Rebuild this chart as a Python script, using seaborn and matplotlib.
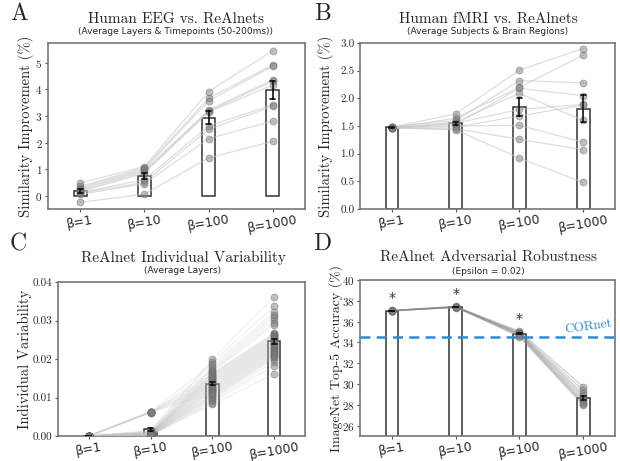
import numpy as np
import pandas as pd
import matplotlib
matplotlib.use("Agg")
import matplotlib.pyplot as plt
import seaborn as sns

# ---------------- data ----------------
conds = ["β=1", "β=10", "β=100", "β=1000"]

# Panel A: Human EEG vs. ReAlnets (10 subjects)
eeg_b1 = [0.48, 0.35, 0.30, 0.25, 0.20, 0.15, 0.12, 0.10, 0.05, -0.25]
eeg_b10 = [1.10, 1.05, 1.00, 0.95, 0.90, 0.85, 0.60, 0.50, 0.45, 0.06]
eeg_b100 = [3.92, 3.67, 3.57, 3.22, 3.18, 3.15, 2.62, 2.50, 2.15, 1.42]
eeg_b1000 = [5.46, 4.93, 4.88, 4.37, 4.31, 4.17, 3.43, 3.37, 2.81, 2.05]

# Panel B: Human fMRI vs. ReAlnets
fmri_b1 = [1.48, 1.47, 1.49, 1.47, 1.46, 1.48, 1.47, 1.48, 1.46, 1.47]
fmri_b10 = [1.72, 1.64, 1.60, 1.57, 1.55, 1.53, 1.50, 1.48, 1.45, 1.43]
fmri_b100 = [2.51, 2.20, 2.32, 2.09, 1.80, 2.18, 1.51, 1.68, 1.26, 0.92]
fmri_b1000 = [2.90, 2.78, 2.28, 1.60, 1.89, 2.05, 1.21, 1.88, 1.07, 0.48]

# Panel C: individual variability (45 model pairs)
var_b1 = [0.0] * 45
var_b10 = [0.0014, 0.0013, 0.0063, 0.0012, 0.0011, 0.0010, 0.0062, 0.0009, 0.0009,
           0.0008, 0.0062, 0.0008, 0.0007, 0.0007, 0.0062, 0.0007, 0.0006, 0.0006,
           0.0061, 0.0006, 0.0006, 0.0005, 0.0062, 0.0005, 0.0005, 0.0005, 0.0063,
           0.0005, 0.0004, 0.0004, 0.0061, 0.0004, 0.0004, 0.0004, 0.0062, 0.0003,
           0.0003, 0.0003, 0.0003, 0.0003, 0.0002, 0.0002, 0.0002, 0.0002, 0.0002]
var_b100 = [0.0200, 0.0193, 0.0187, 0.0181, 0.0176, 0.0172, 0.0169, 0.0166, 0.0163,
            0.0161, 0.0159, 0.0157, 0.0156, 0.0153, 0.0151, 0.0149, 0.0148, 0.0145,
            0.0143, 0.0141, 0.0140, 0.0137, 0.0135, 0.0134, 0.0131, 0.0129, 0.0128,
            0.0125, 0.0123, 0.0121, 0.0120, 0.0117, 0.0115, 0.0114, 0.0111, 0.0109,
            0.0107, 0.0104, 0.0103, 0.0100, 0.0097, 0.0094, 0.0090, 0.0086, 0.0082]
var_b1000 = [0.0362, 0.0337, 0.0321, 0.0314, 0.0308, 0.0301, 0.0294, 0.0288, 0.0268,
             0.0266, 0.0264, 0.0262, 0.0260, 0.0258, 0.0256, 0.0254, 0.0252, 0.0250,
             0.0248, 0.0246, 0.0244, 0.0242, 0.0240, 0.0238, 0.0236, 0.0234, 0.0232,
             0.0230, 0.0228, 0.0226, 0.0224, 0.0222, 0.0220, 0.0218, 0.0216, 0.0214,
             0.0212, 0.0210, 0.0208, 0.0206, 0.0204, 0.0200, 0.0193, 0.0183, 0.0161]

# Panel D: adversarial robustness (10 models)
adv_b1 = [37.05, 37.02, 37.08, 37.04, 37.06, 37.03, 37.07, 37.05, 37.04, 37.06]
adv_b10 = [37.45, 37.38, 37.42, 37.35, 37.48, 37.40, 37.36, 37.44, 37.39, 37.41]
adv_b100 = [35.10, 35.00, 34.95, 34.90, 34.85, 34.80, 34.75, 34.70, 34.60, 34.55]
adv_b1000 = [29.75, 29.40, 29.10, 28.90, 28.70, 28.50, 28.35, 28.20, 28.10, 27.95]
cornet_acc = 34.55
adv_sig = ["*", "*", "*", ""]

# ---------------- style ----------------
sns.set_style("white")
plt.rcParams["font.family"] = ["cmr10", "DejaVu Serif"]
plt.rcParams["axes.formatter.use_mathtext"] = True
plt.rcParams["mathtext.fontset"] = "cm"

W, H = 620, 461
fig = plt.figure(figsize=(W / 100, H / 100), dpi=100)


def ax_px(l, t, r, b):
    return fig.add_axes([l / W, 1 - b / H, (r - l) / W, (b - t) / H])


def make_df(arrs):
    n = len(arrs[0])
    return pd.DataFrame({
        "cond": np.repeat(conds, n),
        "val": np.concatenate(arrs),
        "subj": np.tile(np.arange(n), len(arrs)),
    })


def panel(ax, arrs, line_color="#c8c8c8", line_alpha=0.6, pt_size=5):
    df = make_df(arrs)
    sns.barplot(data=df, x="cond", y="val", order=conds, width=0.2,
                color="white", edgecolor="#333333", linewidth=1.1,
                errorbar="se", capsize=0.08,
                err_kws=dict(color="#111111", linewidth=1.2), ax=ax)
    for ln in ax.lines:
        ln.set_zorder(6)
    sns.lineplot(data=df, x="cond", y="val", units="subj", estimator=None,
                 color=line_color, alpha=line_alpha, linewidth=0.9,
                 legend=False, ax=ax, zorder=3)
    sns.stripplot(data=df, x="cond", y="val", order=conds, jitter=False,
                  color="gray", alpha=0.5, edgecolor="dimgray", linewidth=0.6,
                  size=pt_size, ax=ax, zorder=4)
    ax.set_xlim(-0.5, 3.5)
    ax.set_xlabel("")
    ax.set_xticks(range(4))
    ax.set_xticklabels(conds, rotation=10, fontsize=9, family="DejaVu Sans")
    ax.tick_params(axis="both", length=2.5, width=0.8, color="#555555",
                   direction="out", bottom=True, left=True)
    ax.tick_params(axis="x", pad=0.5)
    ax.tick_params(axis="y", labelsize=8, pad=1.5)
    for s in ax.spines.values():
        s.set_color("#777777")
        s.set_linewidth(1.2)
    return df


def titles(cx, ty, sy, title, sub):
    fig.text(cx / W, 1 - ty / H, title, ha="center", va="center", fontsize=11)
    fig.text(cx / W, 1 - sy / H, sub, ha="center", va="center", fontsize=6.5,
             family="DejaVu Sans")


# Panel A
axA = ax_px(48, 43, 305, 209)
panel(axA, [eeg_b1, eeg_b10, eeg_b100, eeg_b1000])
axA.set_ylim(-0.5, 5.75)
axA.set_yticks([0, 1, 2, 3, 4, 5])
axA.set_ylabel("Similarity Improvement (%)", fontsize=10.5)
axA.yaxis.set_label_coords(-0.055, 0.5)
titles(176, 19, 32, "Human EEG vs. ReAlnets",
       "(Average Layers & Timepoints (50-200ms))")

# Panel B
axB = ax_px(360, 43, 615, 209)
panel(axB, [fmri_b1, fmri_b10, fmri_b100, fmri_b1000])
axB.set_ylim(0, 3.0)
axB.set_yticks([0.0, 0.5, 1.0, 1.5, 2.0, 2.5, 3.0])
axB.yaxis.set_major_formatter(matplotlib.ticker.FormatStrFormatter("%.1f"))
axB.set_ylabel("Similarity Improvement (%)", fontsize=10.5)
axB.yaxis.set_label_coords(-0.10, 0.5)
titles(488, 19, 32, "Human fMRI vs. ReAlnets",
       "(Average Subjects & Brain Regions)")

# Panel C
axC = ax_px(58, 282, 305, 436)
panel(axC, [var_b1, var_b10, var_b100, var_b1000], line_color="#c4c4c4",
      line_alpha=0.22)
axC.set_ylim(0, 0.04)
axC.set_yticks([0.0, 0.01, 0.02, 0.03, 0.04])
axC.yaxis.set_major_formatter(matplotlib.ticker.FormatStrFormatter("%.2f"))
axC.set_ylabel("Individual Variability", fontsize=10.5)
axC.yaxis.set_label_coords(-0.105, 0.5)
titles(183, 258, 270, "ReAlnet Individual Variability", "(Average Layers)")

# Panel D
axD = ax_px(360, 280, 615, 436)
dfD = panel(axD, [adv_b1, adv_b10, adv_b100, adv_b1000], line_color="#888888",
            line_alpha=0.35)
axD.set_ylim(25, 40)
axD.set_yticks([26, 28, 30, 32, 34, 36, 38, 40])
axD.set_ylabel("ImageNet Top-5 Accuracy (%)", fontsize=10)
axD.yaxis.set_label_coords(-0.068, 0.5)
axD.axhline(cornet_acc, color="#2b8cd0", linestyle="--", linewidth=1.8,
            dashes=(4, 2.5), zorder=5)
axD.text(3.08, cornet_acc + 0.95, "CORnet", color="#2b8cd0", fontsize=9.5,
         rotation=8, ha="center", va="center")
tops = dfD.groupby("cond", sort=False)["val"].max()
for i, c in enumerate(conds):
    if adv_sig[i]:
        axD.text(i, tops[c] + 1.15, adv_sig[i], ha="center", va="center",
                 fontsize=10, family="DejaVu Sans", color="#333333")
titles(488, 257, 271, "ReAlnet Adversarial Robustness", "(Epsilon = 0.02)")

# panel letters
for letter, (x, y) in zip("ABCD", [(19, 14), (323, 14), (18, 244), (322, 244)]):
    fig.text(x / W, 1 - y / H, letter, ha="center", va="center", fontsize=17)

fig.savefig("out.png", dpi=100)
